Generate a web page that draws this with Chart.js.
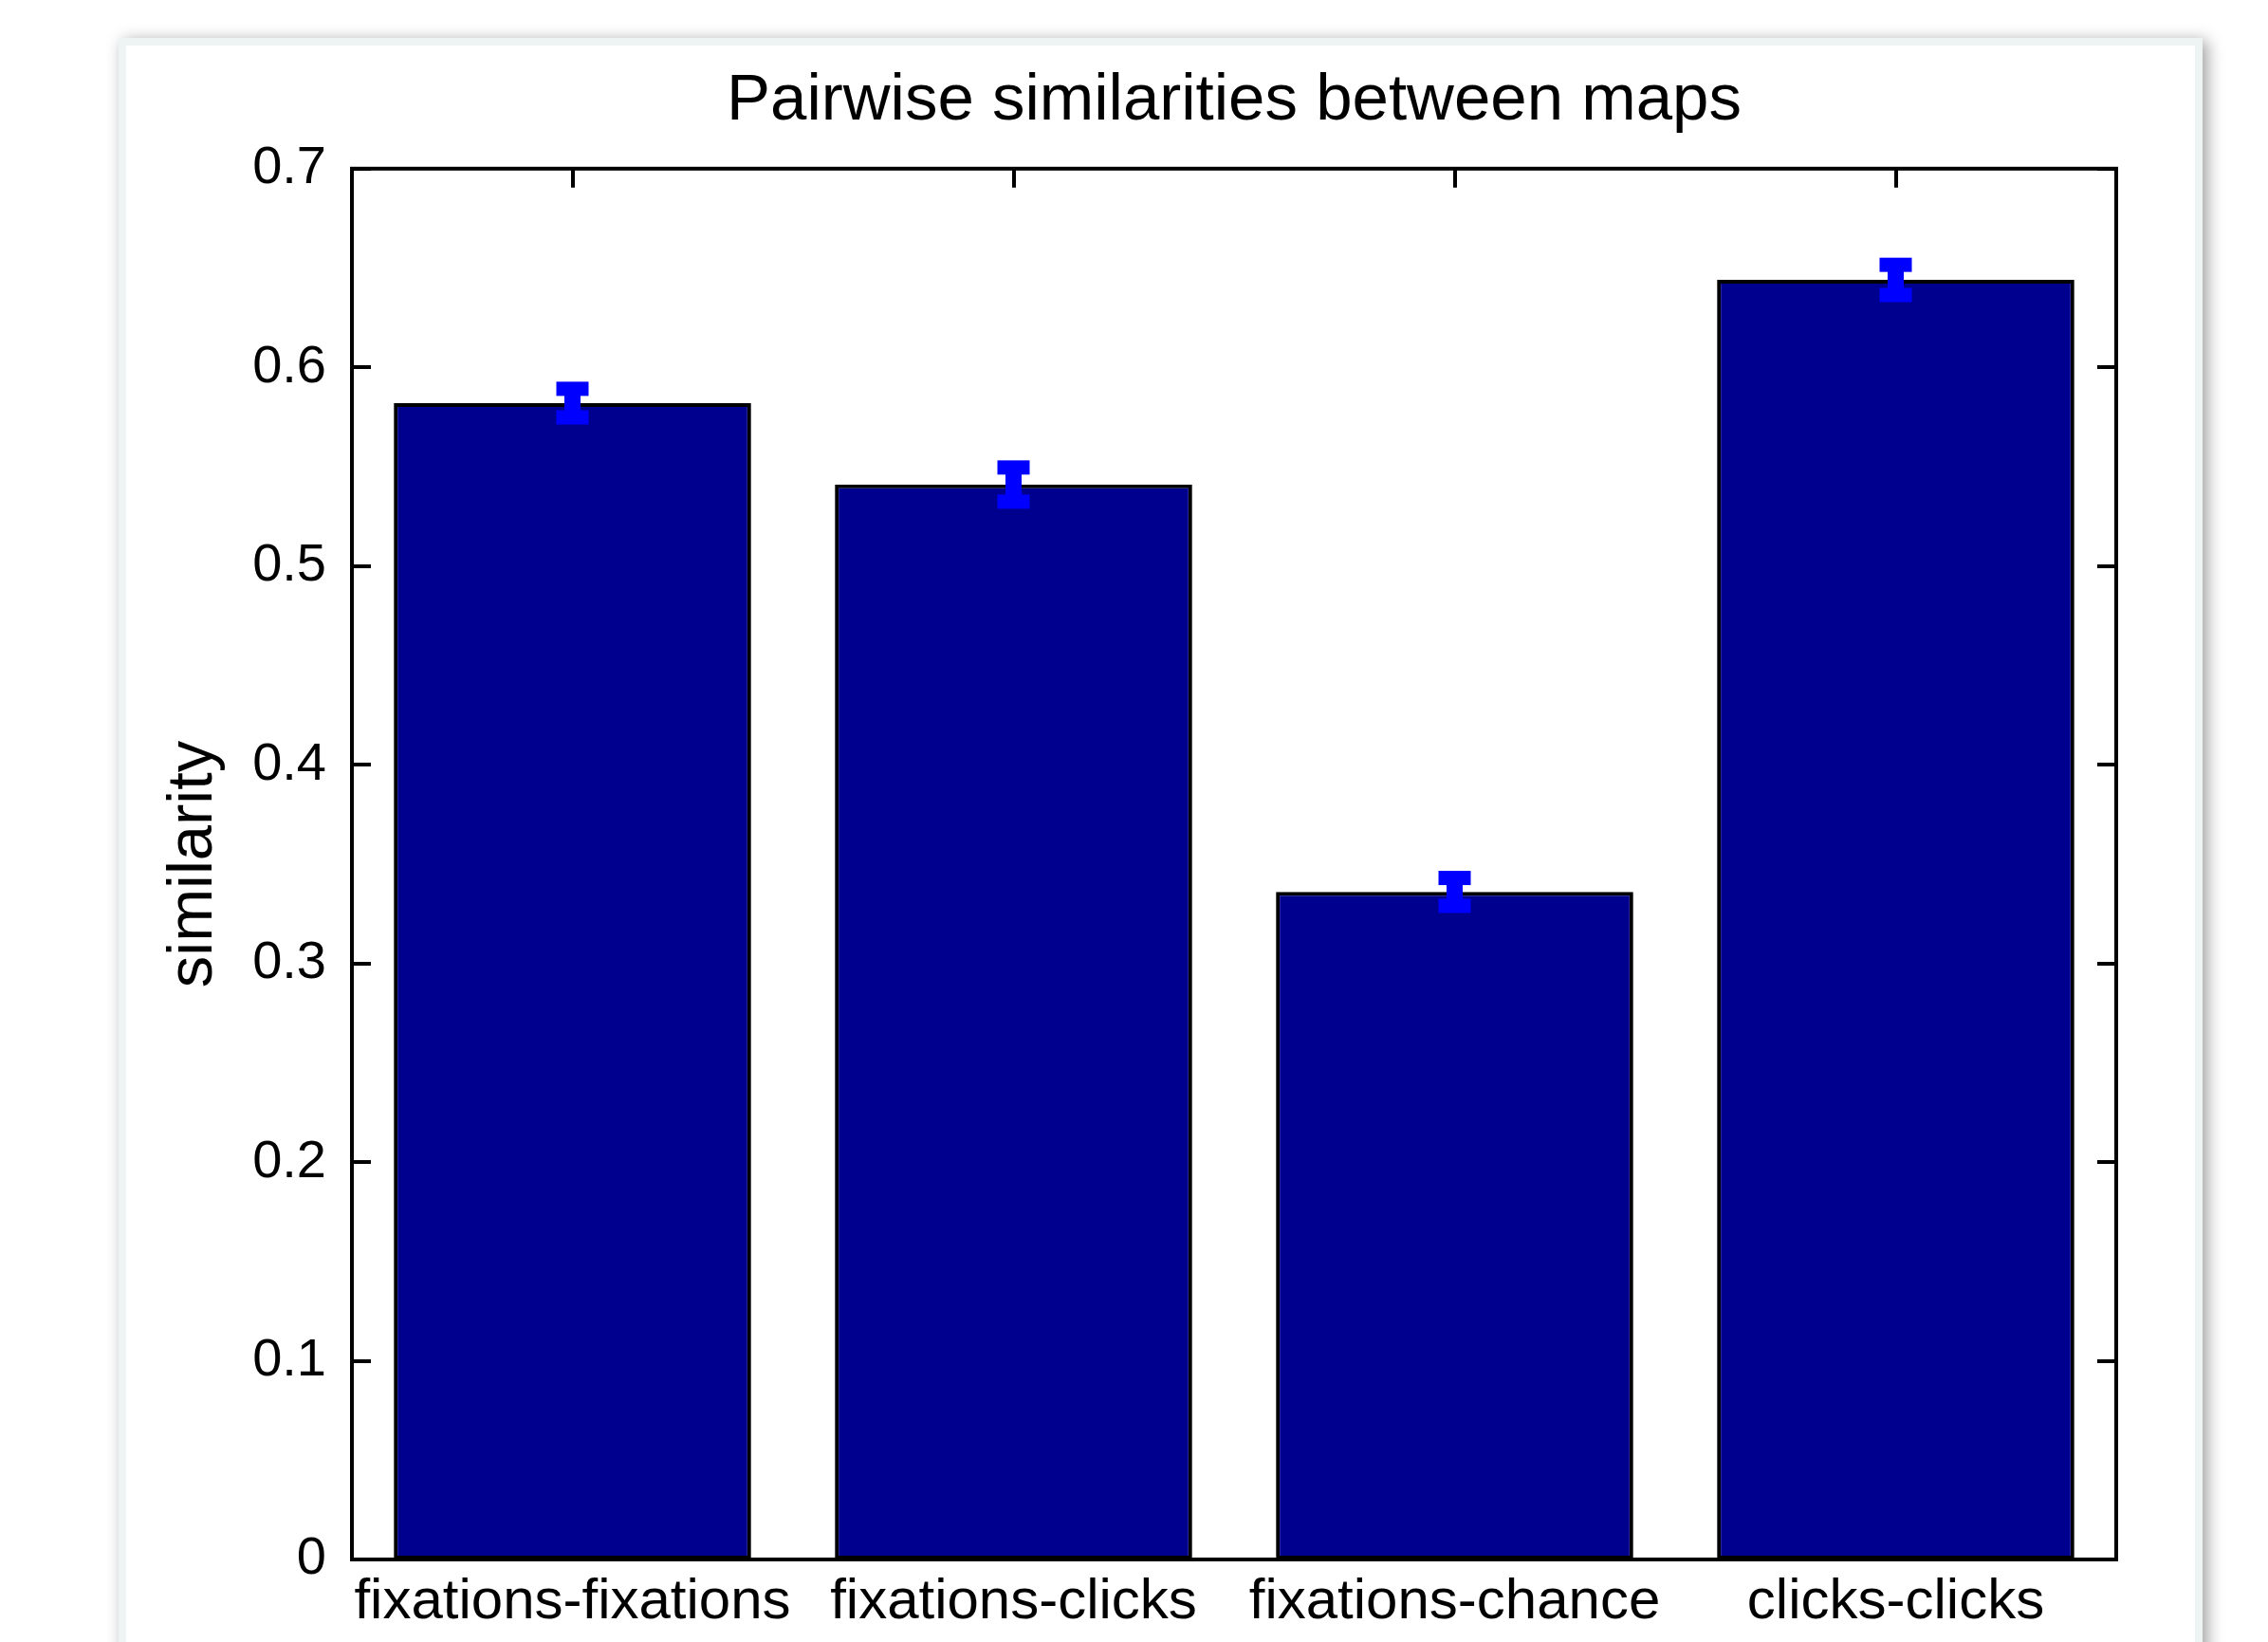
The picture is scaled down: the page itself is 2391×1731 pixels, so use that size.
<!DOCTYPE html>
<html>
<head>
<meta charset="utf-8">
<script src="https://cdn.jsdelivr.net/npm/chart.js@4/dist/chart.umd.min.js"></script>
<style>
  html, body { margin: 0; padding: 0; background: #ffffff; overflow: hidden; }
  body { width: 2391px; height: 1731px; position: relative; }
  #card {
    position: absolute; left: 125px; top: 40px; width: 2181px; height: 1800px;
    background: #ffffff; border: 8px solid #eef3f3; border-bottom: none;
    box-shadow: 5px 3px 16px rgba(0,0,0,0.38);
  }
  #c { position: absolute; left: 0; top: 0; }
</style>
</head>
<body>
<div id="card"></div>
<canvas id="c" width="2391" height="1731"></canvas>
<script>
const categories = ["fixations-fixations", "fixations-clicks", "fixations-chance", "clicks-clicks"];
const similarity = [0.582, 0.541, 0.336, 0.644];
const errors = [0.0072, 0.0086, 0.0070, 0.0076];
const yTicks = [0, 0.1, 0.2, 0.3, 0.4, 0.5, 0.6, 0.7];

Chart.defaults.color = '#000000';
Chart.defaults.font.family = '"Liberation Sans", Arial, sans-serif';

const boxAndTicks = {
  id: 'boxAndTicks',
  beforeDatasetsDraw(chart) {
    const {ctx, chartArea: a, scales} = chart;
    const tl = 20;
    ctx.save();
    ctx.strokeStyle = '#000';
    ctx.lineWidth = 4;
    ctx.beginPath();
    yTicks.forEach(v => {
      const y = Math.round(scales.y.getPixelForValue(v));
      ctx.moveTo(a.left, y); ctx.lineTo(a.left + tl, y);
      ctx.moveTo(a.right, y); ctx.lineTo(a.right - tl, y);
    });
    categories.forEach((c, i) => {
      const x = Math.round(scales.x.getPixelForValue(i));
      ctx.moveTo(x, a.top); ctx.lineTo(x, a.top + tl);
      ctx.moveTo(x, a.bottom); ctx.lineTo(x, a.bottom - tl);
    });
    ctx.stroke();
    ctx.restore();
  },
  afterDatasetsDraw(chart) {
    const {ctx, chartArea: a, scales} = chart;
    ctx.save();
    ctx.fillStyle = '#0000ff';
    const meta = chart.getDatasetMeta(0);
    meta.data.forEach((bar, i) => {
      const yT = scales.y.getPixelForValue(similarity[i] + errors[i]);
      const yB = scales.y.getPixelForValue(similarity[i] - errors[i]);
      const x = bar.x;
      const capW = 34, capH = 15, stemW = 17;
      ctx.fillRect(x - stemW / 2, yT, stemW, yB - yT);
      ctx.fillRect(x - capW / 2, yT - capH / 2, capW, capH);
      ctx.fillRect(x - capW / 2, yB - capH / 2, capW, capH);
    });
    ctx.strokeStyle = '#000';
    ctx.lineWidth = 4;
    ctx.strokeRect(a.left, a.top, a.right - a.left, a.bottom - a.top);
    ctx.restore();
  }
};

new Chart(document.getElementById('c'), {
  type: 'bar',
  data: {
    labels: categories,
    datasets: [{
      data: similarity,
      backgroundColor: 'rgb(0,0,143)',
      borderColor: '#000000',
      borderWidth: 4,
      borderSkipped: false,
      categoryPercentage: 0.81,
      barPercentage: 1.0
    }]
  },
  options: {
    responsive: false,
    animation: false,
    devicePixelRatio: 1,
    layout: { padding: { left: 0, right: 160, top: 0, bottom: 0 } },
    plugins: {
      legend: { display: false },
      tooltip: { enabled: false },
      title: {
        display: true,
        text: 'Pairwise similarities between maps',
        fullSize: false,
        color: '#000',
        font: { size: 69, weight: 'normal' },
        padding: { top: 66, bottom: 29 }
      }
    },
    scales: {
      x: {
        type: 'category',
        offset: true,
        grid: { display: false, drawTicks: false },
        border: { display: false },
        ticks: { font: { size: 60 }, color: '#000', padding: 9, maxRotation: 0, autoSkip: false },
        afterFit(scale) { scale.height = 87; }
      },
      y: {
        min: 0,
        max: 0.7,
        grid: { display: false, drawTicks: false },
        border: { display: false },
        ticks: {
          stepSize: 0.1,
          font: { size: 56 },
          color: '#000',
          padding: 27,
          callback: (v) => String(Math.round(v * 10) / 10)
        },
        title: {
          display: true,
          text: 'similarity',
          color: '#000',
          font: { size: 67, weight: 'normal' },
          padding: { top: 164, bottom: 0 }
        },
        afterFit(scale) { scale.width = 371; }
      }
    }
  },
  plugins: [boxAndTicks]
});
</script>
</body>
</html>
